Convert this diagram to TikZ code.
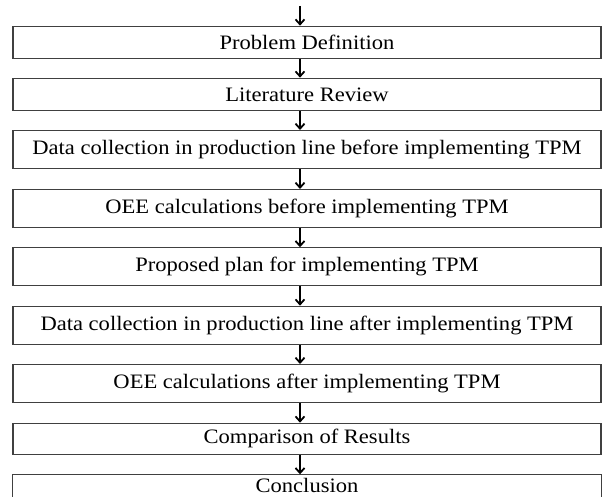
\documentclass[tikz,border=0pt]{standalone}
\usepackage{fontspec}
\setmainfont{Liberation Serif}[FakeStretch=1.1]
\usetikzlibrary{arrows.meta}
\begin{document}
\begin{tikzpicture}[x=1pt,y=1pt,
  frame/.style={draw=black!75, line width=1.1pt},
  stepbox/.style={frame, minimum width=588pt, inner sep=0pt,
    font=\fontsize{20.5}{24}\selectfont, text=black, anchor=north},
  arr/.style={line width=1.8pt, -{Straight Barb[length=5pt,width=9pt]}},
]
\useasboundingbox (0,0) rectangle (602,-497);
\clip (0,0) rectangle (602,-497);
\fill[white] (0,0) rectangle (602,-497);
\node[stepbox, minimum height=32.6pt] (b1) at (307,-25.7) {Problem Definition};
\node[stepbox, minimum height=32.3pt] (b2) at (307,-77.7) {Literature Review};
\node[stepbox, minimum height=38.3pt] (b3) at (307,-130) {Data collection in production line before implementing TPM};
\node[stepbox, minimum height=38.3pt] (b4) at (307,-189) {OEE calculations before implementing TPM};
\node[stepbox, minimum height=37.7pt] (b5) at (307,-247.3) {Proposed plan for implementing TPM};
\node[stepbox, minimum height=38.3pt] (b6) at (307,-305.7) {Data collection in production line after implementing TPM};
\node[stepbox, minimum height=38pt] (b7) at (307,-364) {OEE calculations after implementing TPM};
\node[stepbox, minimum height=31.3pt] (b8) at (307,-422.7) {Comparison of Results};
\node[stepbox, draw=none, minimum height=21pt] (b9) at (307,-474.3) {Conclusion};
\draw[frame] (b9.north west) rectangle ([yshift=-20pt]b9.south east);
\coordinate (start) at (300,-6);
\draw[arr] (start) -- ([xshift=-7pt]b1.north);
\draw[arr] ([xshift=-7pt]b1.south) -- ([xshift=-7pt]b2.north);
\draw[arr] ([xshift=-7pt]b2.south) -- ([xshift=-7pt]b3.north);
\draw[arr] ([xshift=-7pt]b3.south) -- ([xshift=-7pt]b4.north);
\draw[arr] ([xshift=-7pt]b4.south) -- ([xshift=-7pt]b5.north);
\draw[arr] ([xshift=-7pt]b5.south) -- ([xshift=-7pt]b6.north);
\draw[arr] ([xshift=-7pt]b6.south) -- ([xshift=-7pt]b7.north);
\draw[arr] ([xshift=-7pt]b7.south) -- ([xshift=-7pt]b8.north);
\draw[arr] ([xshift=-7pt]b8.south) -- ([xshift=-7pt]b9.north);
\end{tikzpicture}
\end{document}
